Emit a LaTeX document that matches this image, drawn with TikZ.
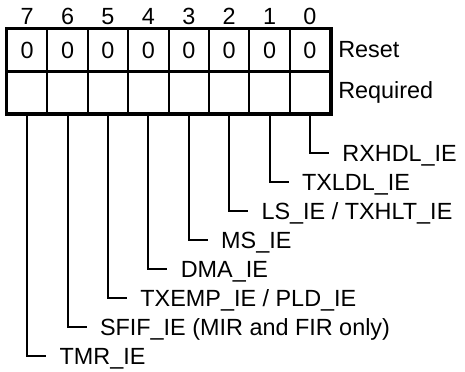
\documentclass[tikz,border=0pt]{standalone}
\usepackage{fontspec}
\setmainfont{Liberation Sans}
\usetikzlibrary{positioning}

\tikzset{
  bitcell/.style={draw, line width=1pt, minimum width=20.2pt, minimum height=21pt, inner sep=0pt},
  bitnum/.style={inner sep=0pt},
  bitlabel/.style={anchor=west, inner xsep=6.5pt, inner ysep=0pt, text height=8.4pt, text depth=0pt},
  leader/.style={line width=1pt}
}

\begin{document}
\begin{tikzpicture}[x=0.5pt, y=-0.5pt, font=\fontsize{11.7}{14}\selectfont]
\useasboundingbox (0,0) rectangle (465,371);

% register cells, one column per bit
\foreach \b in {7,...,0} {
  \pgfmathsetmacro\cx{27.2+40.4*(7-\b)}
  \node[bitnum] (n\b) at (\cx,16.5) {\b};
  \node[bitcell] (r\b) at (\cx,50) {0};
  \node[bitcell] (q\b) at (\cx,92) {};
}
\draw[line width=1.5pt] (r7.north west) rectangle (q0.south east);
\draw[line width=1.4pt] (r7.south west) -- (r0.south east);

\node[anchor=west] (rst) at (r0.east) {Reset};
\node[anchor=west] (req) at (q0.east) {Required};

% bit names
\foreach \b/\txt in {0/{RXHDL\_IE}, 1/{TXLDL\_IE}, 2/{LS\_IE / TXHLT\_IE}, 3/{MS\_IE},
                     4/{DMA\_IE}, 5/{TXEMP\_IE / PLD\_IE}, 6/{SFIF\_IE (MIR and FIR only)}, 7/{TMR\_IE}} {
  \pgfmathsetmacro\lx{46.2+40.4*(7-\b)}
  \pgfmathsetmacro\ly{153+29*\b}
  \node[bitlabel] (l\b) at (\lx,\ly) {\txt};
  \draw[leader] (q\b.south) |- (l\b.west);
}
\end{tikzpicture}
\end{document}
